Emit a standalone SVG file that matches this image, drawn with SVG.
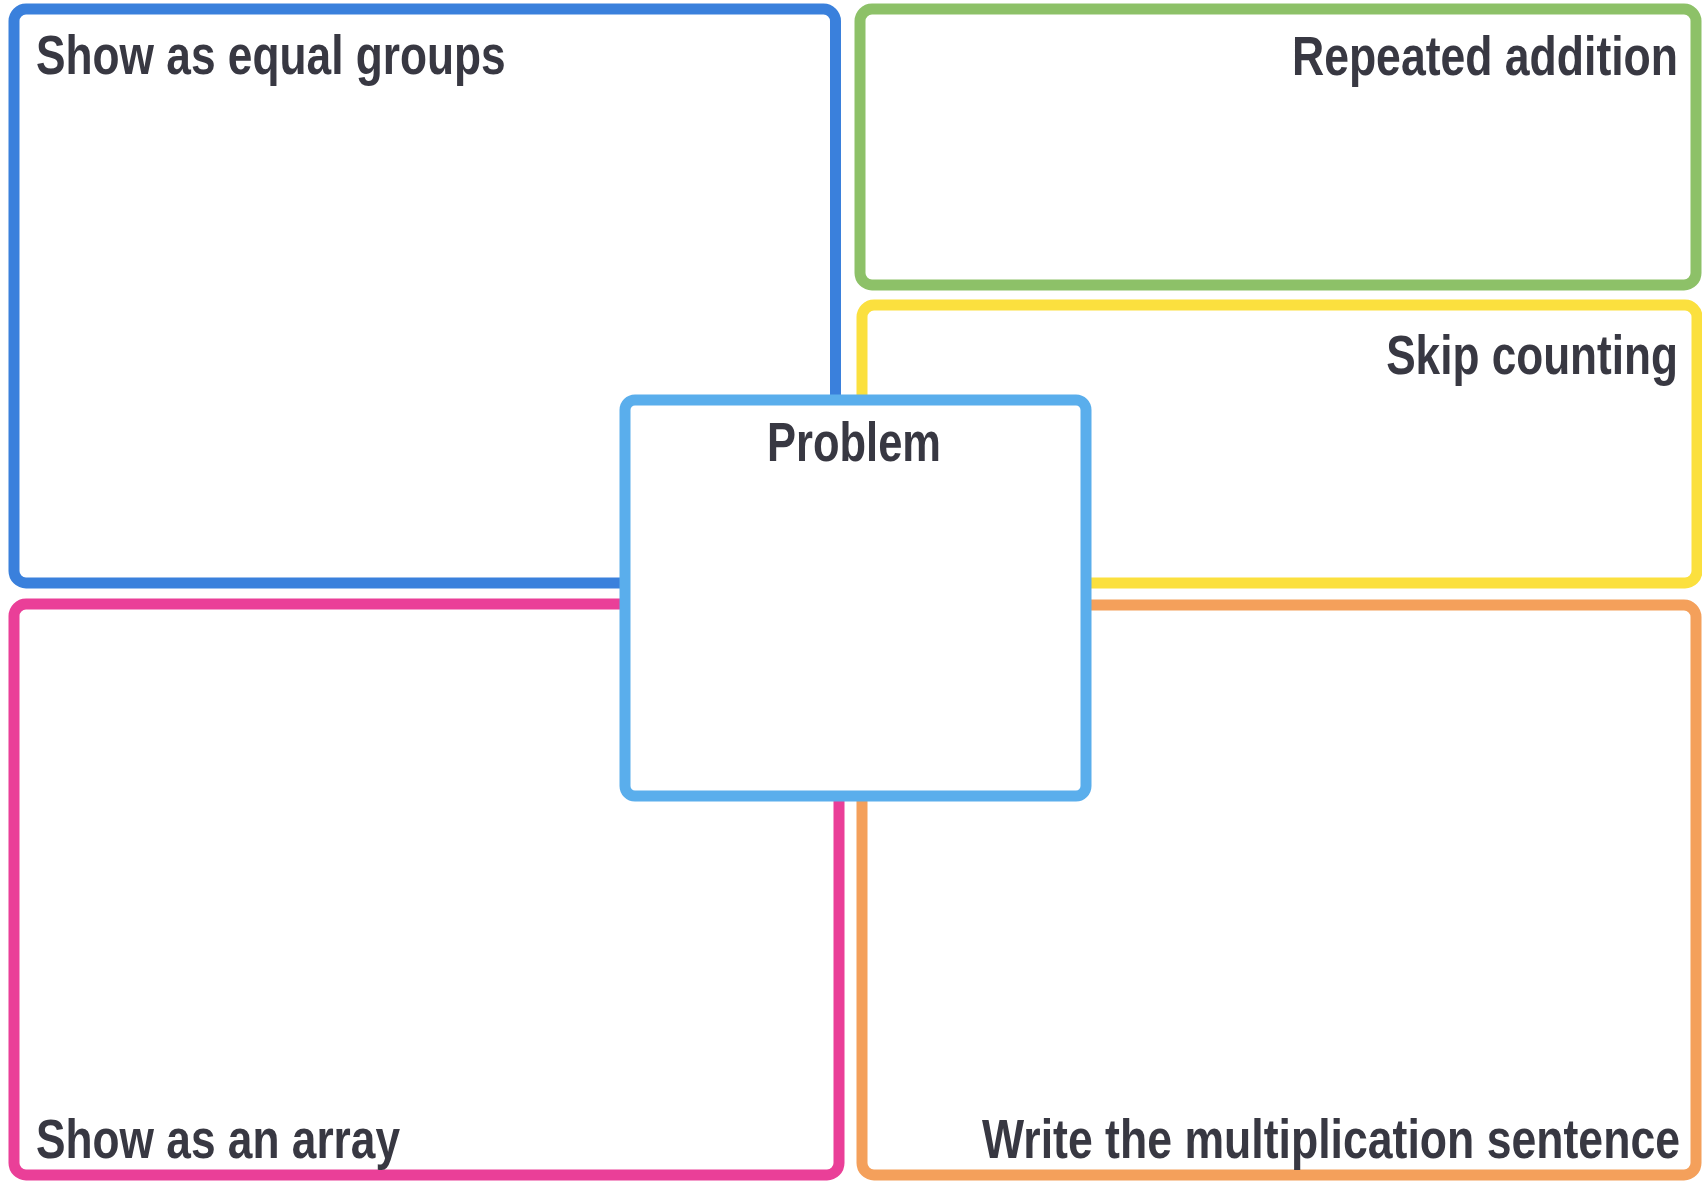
<svg xmlns="http://www.w3.org/2000/svg" width="1702" height="1185" viewBox="0 0 1702 1185">
  <style>
    .box { fill: #ffffff; stroke-width: 11; }
    .lbl { font-family: "Liberation Sans", Arial, sans-serif; font-weight: bold; font-size: 55px; fill: #383842; }
    .end { text-anchor: end; }
    .mid { text-anchor: middle; }
  </style>
  <rect x="0" y="0" width="1702" height="1185" fill="#ffffff"/>
  <g id="connectors"></g>
  <g id="equal-groups">
    <rect class="box" x="14" y="9" width="821.5" height="574" rx="12" stroke="#3a80dc"/>
    <text class="lbl" transform="translate(36,74) scale(0.805,1)" x="0" y="0">Show as equal groups</text>
  </g>
  <g id="repeated-addition">
    <rect class="box" x="860" y="9" width="836" height="276" rx="12" stroke="#8dc168"/>
    <text class="lbl end" transform="translate(1678,75) scale(0.81,1)" x="0" y="0">Repeated addition</text>
  </g>
  <g id="skip-counting">
    <rect class="box" x="862" y="305" width="835" height="278" rx="12" stroke="#fbe03e"/>
    <text class="lbl end" transform="translate(1678,374) scale(0.803,1)" x="0" y="0">Skip counting</text>
  </g>
  <g id="array">
    <rect class="box" x="14" y="604" width="825" height="571" rx="12" stroke="#ea3f98"/>
    <text class="lbl" transform="translate(36,1158) scale(0.805,1)" x="0" y="0">Show as an array</text>
  </g>
  <g id="multiplication-sentence">
    <rect class="box" x="862" y="605" width="834" height="570" rx="12" stroke="#f4a05b"/>
    <text class="lbl end" transform="translate(1680,1158) scale(0.811,1)" x="0" y="0">Write the multiplication sentence</text>
  </g>
  <g id="problem">
    <rect class="box" x="625" y="400" width="461" height="396" rx="10" stroke="#5aaeec" stroke-width="10"/>
    <text class="lbl mid" transform="translate(854,461) scale(0.791,1)" x="0" y="0">Problem</text>
  </g>
</svg>
